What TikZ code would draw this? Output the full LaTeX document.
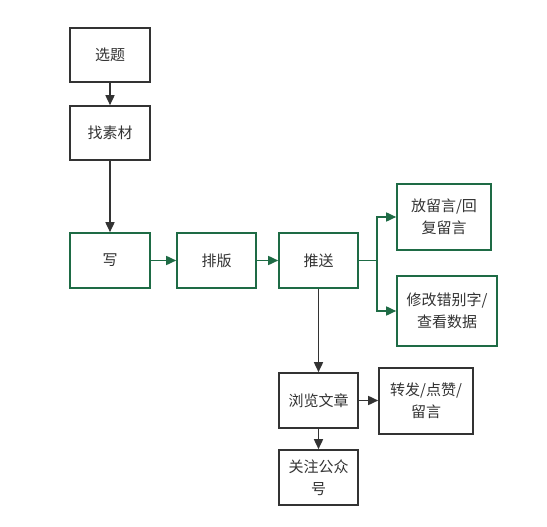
\documentclass[tikz,border=0pt]{standalone}
\usepackage{fontspec}
\setmainfont{Noto Sans CJK SC}
\usetikzlibrary{arrows.meta}
\definecolor{lineblack}{HTML}{333333}
\definecolor{flowgreen}{HTML}{1E6B45}
\tikzset{
  box/.style={draw=lineblack, line width=1.6pt, fill=white, align=center,
    font=\fontsize{15}{22}\selectfont, text=lineblack, inner sep=0pt},
  gbox/.style={box, draw=flowgreen},
  arr/.style={-{Triangle[length=10pt,width=9pt]}, line width=1.6pt, draw=lineblack},
  garr/.style={arr, draw=flowgreen}
}
\begin{document}
\begin{tikzpicture}[x=1pt,y=-1pt]
    \useasboundingbox (0,0) rectangle (547,527);

    % Left column
    \node[box, minimum width=80pt, minimum height=54pt] (topic) at (110,55) {选题};
    \node[box, minimum width=80pt, minimum height=54pt] (material) at (110,133) {找素材};

    % Main row
    \node[gbox, minimum width=80pt, minimum height=55pt] (write) at (110,260.5) {写};
    \node[gbox, minimum width=79pt, minimum height=55pt] (layout) at (216.5,260.5) {排版};
    \node[gbox, minimum width=79pt, minimum height=55pt] (push) at (318.5,260.5) {推送};

    % Branches
    \node[gbox, minimum width=94pt, minimum height=66pt] (reply) at (444,217) {放留言/回\\复留言};
    \node[gbox, minimum width=100pt, minimum height=70pt] (fix) at (447,311) {修改错别字/\\查看数据};

    % Readers
    \node[box, minimum width=79pt, minimum height=55pt] (read) at (318.5,400.5) {浏览文章};
    \node[box, minimum width=94pt, minimum height=66pt] (share) at (426,401) {转发/点赞/\\留言};
    \node[box, minimum width=79pt, minimum height=55pt] (follow) at (318.5,477.5) {关注公众\\号};

    \coordinate (split) at (377,260.5);

    \draw[arr] (topic) -- (material);
    \draw[arr] (material) -- (write);
    \draw[garr] (write) -- (layout);
    \draw[garr] (layout) -- (push);
    \draw[flowgreen, line width=1.6pt] (push.east) -- (split);
    \draw[garr] (split) |- (reply.west);
    \draw[garr] (split) |- (fix.west);
    \draw[arr] (push) -- (read);
    \draw[arr] (read.east) -- (read.east -| share.west);
    \draw[arr] (read) -- (follow);
\end{tikzpicture}
\end{document}
